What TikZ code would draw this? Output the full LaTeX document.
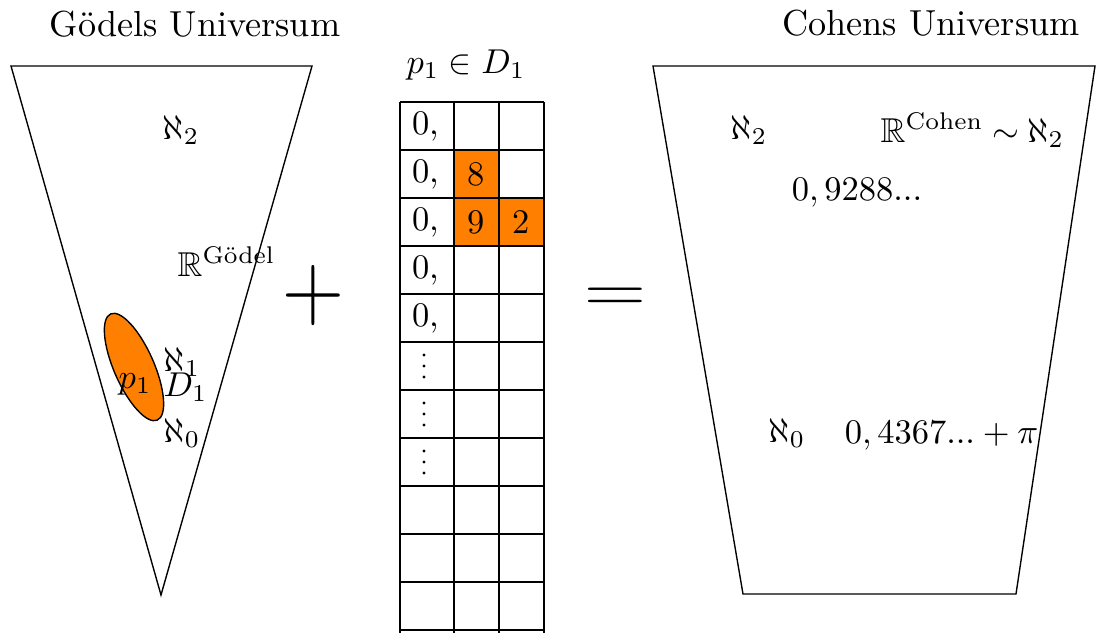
\documentclass[tikz,border=0pt]{standalone}
\usepackage{amsmath,amssymb}
\begin{document}
\begin{tikzpicture}[x=0.29pt,y=-0.29pt,
  lbl/.style={inner sep=0pt, anchor=base west},
  clbl/.style={inner sep=0pt, anchor=base},
  ttl/.style={inner sep=0pt, anchor=base, font=\fontsize{10.5}{12}\selectfont},
  cell/.style={inner sep=0pt},
  gridline/.style={line width=0.6pt},
  shapeline/.style={line width=0.4pt},
  dotmark/.style={fill=black},
  big/.style={inner sep=0pt, font=\fontsize{29.5}{34}\selectfont}]
\useasboundingbox (0,0) rectangle (1102,635);
% titles
\node[ttl] (tg) at (195,36) {Gödels Universum};
\node[ttl] (tc) at (931,35) {Cohens Universum};
\node[ttl, font=\normalsize] (pd) at (466,73) {$p_1\in D_1$};
% left universe
\draw[shapeline] (11,66) -- (312,66) -- (161,595) -- cycle;
\draw[shapeline, fill=orange, rotate around={23.7:(134,367)}] (134,367) ellipse [x radius=20, y radius=58];
\node[lbl] (la2) at (162,139) {$\aleph_2$};
\node[lbl] (lR) at (177,276) {$\mathbb{R}^{\text{Gödel}}$};
\node[lbl] (la1) at (163,371) {$\aleph_1$};
\node[lbl] (lD1) at (163,396) {$D_1$};
\node[lbl] (la0) at (163,442) {$\aleph_0$};
\node[lbl] (lp1) at (118,388) {$p_1$};
% right universe
\draw[shapeline] (653,66) -- (1095,66) -- (1016,594) -- (743,594) -- cycle;
\node[lbl] (ra2) at (730,139) {$\aleph_2$};
\node[lbl] (rR) at (880,142) {$\mathbb{R}^{\text{Cohen}}\mskip-0.5mu\sim\mskip-0.5mu\aleph_2$};
\node[clbl] (rn1) at (857,200) {$0,9288...$};
\node[lbl] (ra0) at (768,442) {$\aleph_0$};
\node[clbl] (rn2) at (941.5,443) {$0,4367...+\pi$};
% operators
\node[big] (plus) at (313,295.5) {\scalebox{1}[1.12]{$+$}};
\node[big] (eq) at (615.5,300) {\scalebox{1}[0.8]{$=$}};
% grid
\fill[orange] (454,150) rectangle (499,198);
\fill[orange] (454,198) rectangle (544,246);
\foreach \x in {400,454,499,544} \draw[gridline] (\x,102) -- (\x,633);
\foreach \k in {0,...,11} \draw[gridline] (400,102+48*\k) -- (544,102+48*\k);
\foreach \k in {0,...,4} \node[cell] (z\k) at (426,126+48*\k) {0,};
\foreach \k in {5,6,7} {
  \foreach \d in {-11,0,11} \fill[dotmark] (424,366+48*\k-240+\d) circle [radius=1.7];
}
\node[cell] (c8) at (476.5,174) {8};
\node[cell] (c9) at (476.5,222) {9};
\node[cell] (c2) at (521.5,222) {2};
\end{tikzpicture}
\end{document}
